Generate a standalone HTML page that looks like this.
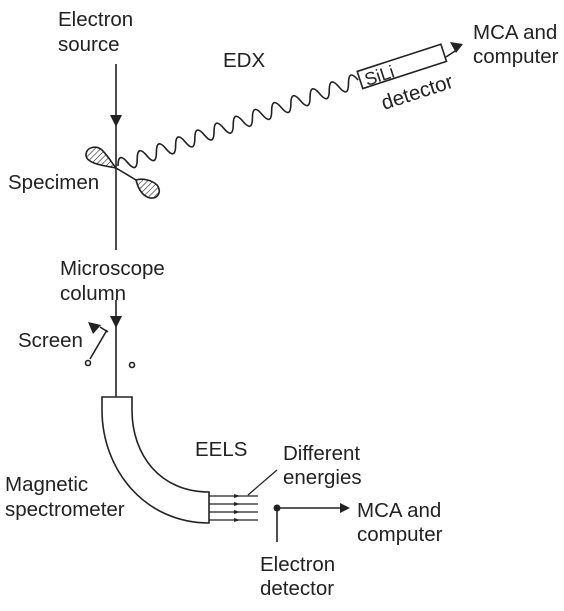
<!DOCTYPE html>
<html><head><style>
body{margin:0;background:#fff}
svg text{font-family:"Liberation Sans",Arial,sans-serif;font-size:20.5px;fill:#222}
</style></head><body>
<svg width="564" height="606" viewBox="0 0 564 606" xmlns="http://www.w3.org/2000/svg">
<defs>
<pattern id="h" width="4" height="4" patternUnits="userSpaceOnUse" patternTransform="rotate(45)">
<line x1="0" y1="0" x2="0" y2="4" stroke="#222" stroke-width="1.2"/>
</pattern>
</defs>
<g stroke="#222" stroke-width="1.6" fill="none">
<line x1="116" y1="64" x2="116" y2="250"/>
<line x1="116" y1="300" x2="116" y2="397"/>
<path d="M116,168 C106,166 86,164 86,155 C86,147 96,145 102,150 C108,156 112,163 116,168 Z" fill="url(#h)"/>
<path d="M116,168 L136,180 C142,178 152,180 157,185 C162,192 158,199 150,198 C142,196 138,188 136,180" fill="url(#h)"/>
<g transform="translate(118,166) rotate(-19.7)">
<path d="M0,0 q5.1,-14 10.2,0 t10.2,0 t10.2,0 t10.2,0 t10.2,0 t10.2,0 t10.2,0 t10.2,0 t10.2,0 t10.2,0 t10.2,0 t10.2,0 t10.2,0 t10.2,0 t10.2,0 t10.2,0 t10.2,0 t10.2,0 t10.2,0 t10.2,0 t10.2,0 t10.2,0 t10.2,0 t10.2,0 t10.2,0"/>
</g>
<g transform="translate(360,80) rotate(-18)">
<rect x="0" y="-9" width="88" height="18"/>
</g>
<line x1="446" y1="57" x2="458" y2="49"/>
<line x1="90" y1="359" x2="107" y2="330"/>
<line x1="100" y1="327" x2="108" y2="332"/>
<circle cx="88" cy="363" r="2.5"/>
<circle cx="132" cy="365" r="2.5"/>
<path d="M102,397 L132,397 L132,410 C132,455 160,492 209,492 L209,523 C145,523 102,470 102,410 Z"/>
<g stroke-width="1.3">
<line x1="209" y1="496" x2="258" y2="496"/>
<line x1="209" y1="504" x2="258" y2="504"/>
<line x1="209" y1="512" x2="258" y2="512"/>
<line x1="209" y1="520" x2="258" y2="520"/>
<line x1="248" y1="495" x2="277" y2="470"/>
</g>
<line x1="277" y1="508" x2="340" y2="508"/>
<line x1="277" y1="508" x2="277" y2="542"/>
</g>
<g fill="#222">
<polygon points="110,115 122,115 116,127"/>
<polygon points="110,316 122,316 116,328"/>
<polygon points="88,322 101,325 93,334"/>
<polygon points="463,44 450,42 456,53"/>
<polygon points="340,503 350,508 340,513"/>
<circle cx="277" cy="508" r="3.5"/>
<polygon points="234,494 240,496 234,498"/>
<polygon points="234,502 240,504 234,506"/>
<polygon points="234,510 240,512 234,514"/>
<polygon points="234,518 240,520 234,522"/>
</g>
<text x="58" y="26">Electron</text>
<text x="58" y="51">source</text>
<text x="223" y="67">EDX</text>
<text x="8" y="189">Specimen</text>
<text x="60" y="275">Microscope</text>
<text x="60" y="300">column</text>
<text x="18" y="347">Screen</text>
<text x="473" y="39">MCA and</text>
<text x="473" y="63">computer</text>
<text transform="translate(367,86) rotate(-18)" style="font-size:18px">SiLi</text>
<text transform="translate(384,110) rotate(-18)">detector</text>
<text x="195" y="456">EELS</text>
<text x="283" y="460">Different</text>
<text x="283" y="484">energies</text>
<text x="5" y="491">Magnetic</text>
<text x="5" y="516">spectrometer</text>
<text x="357" y="517">MCA and</text>
<text x="357" y="541">computer</text>
<text x="260" y="571">Electron</text>
<text x="260" y="595">detector</text>
</svg>
</body></html>
